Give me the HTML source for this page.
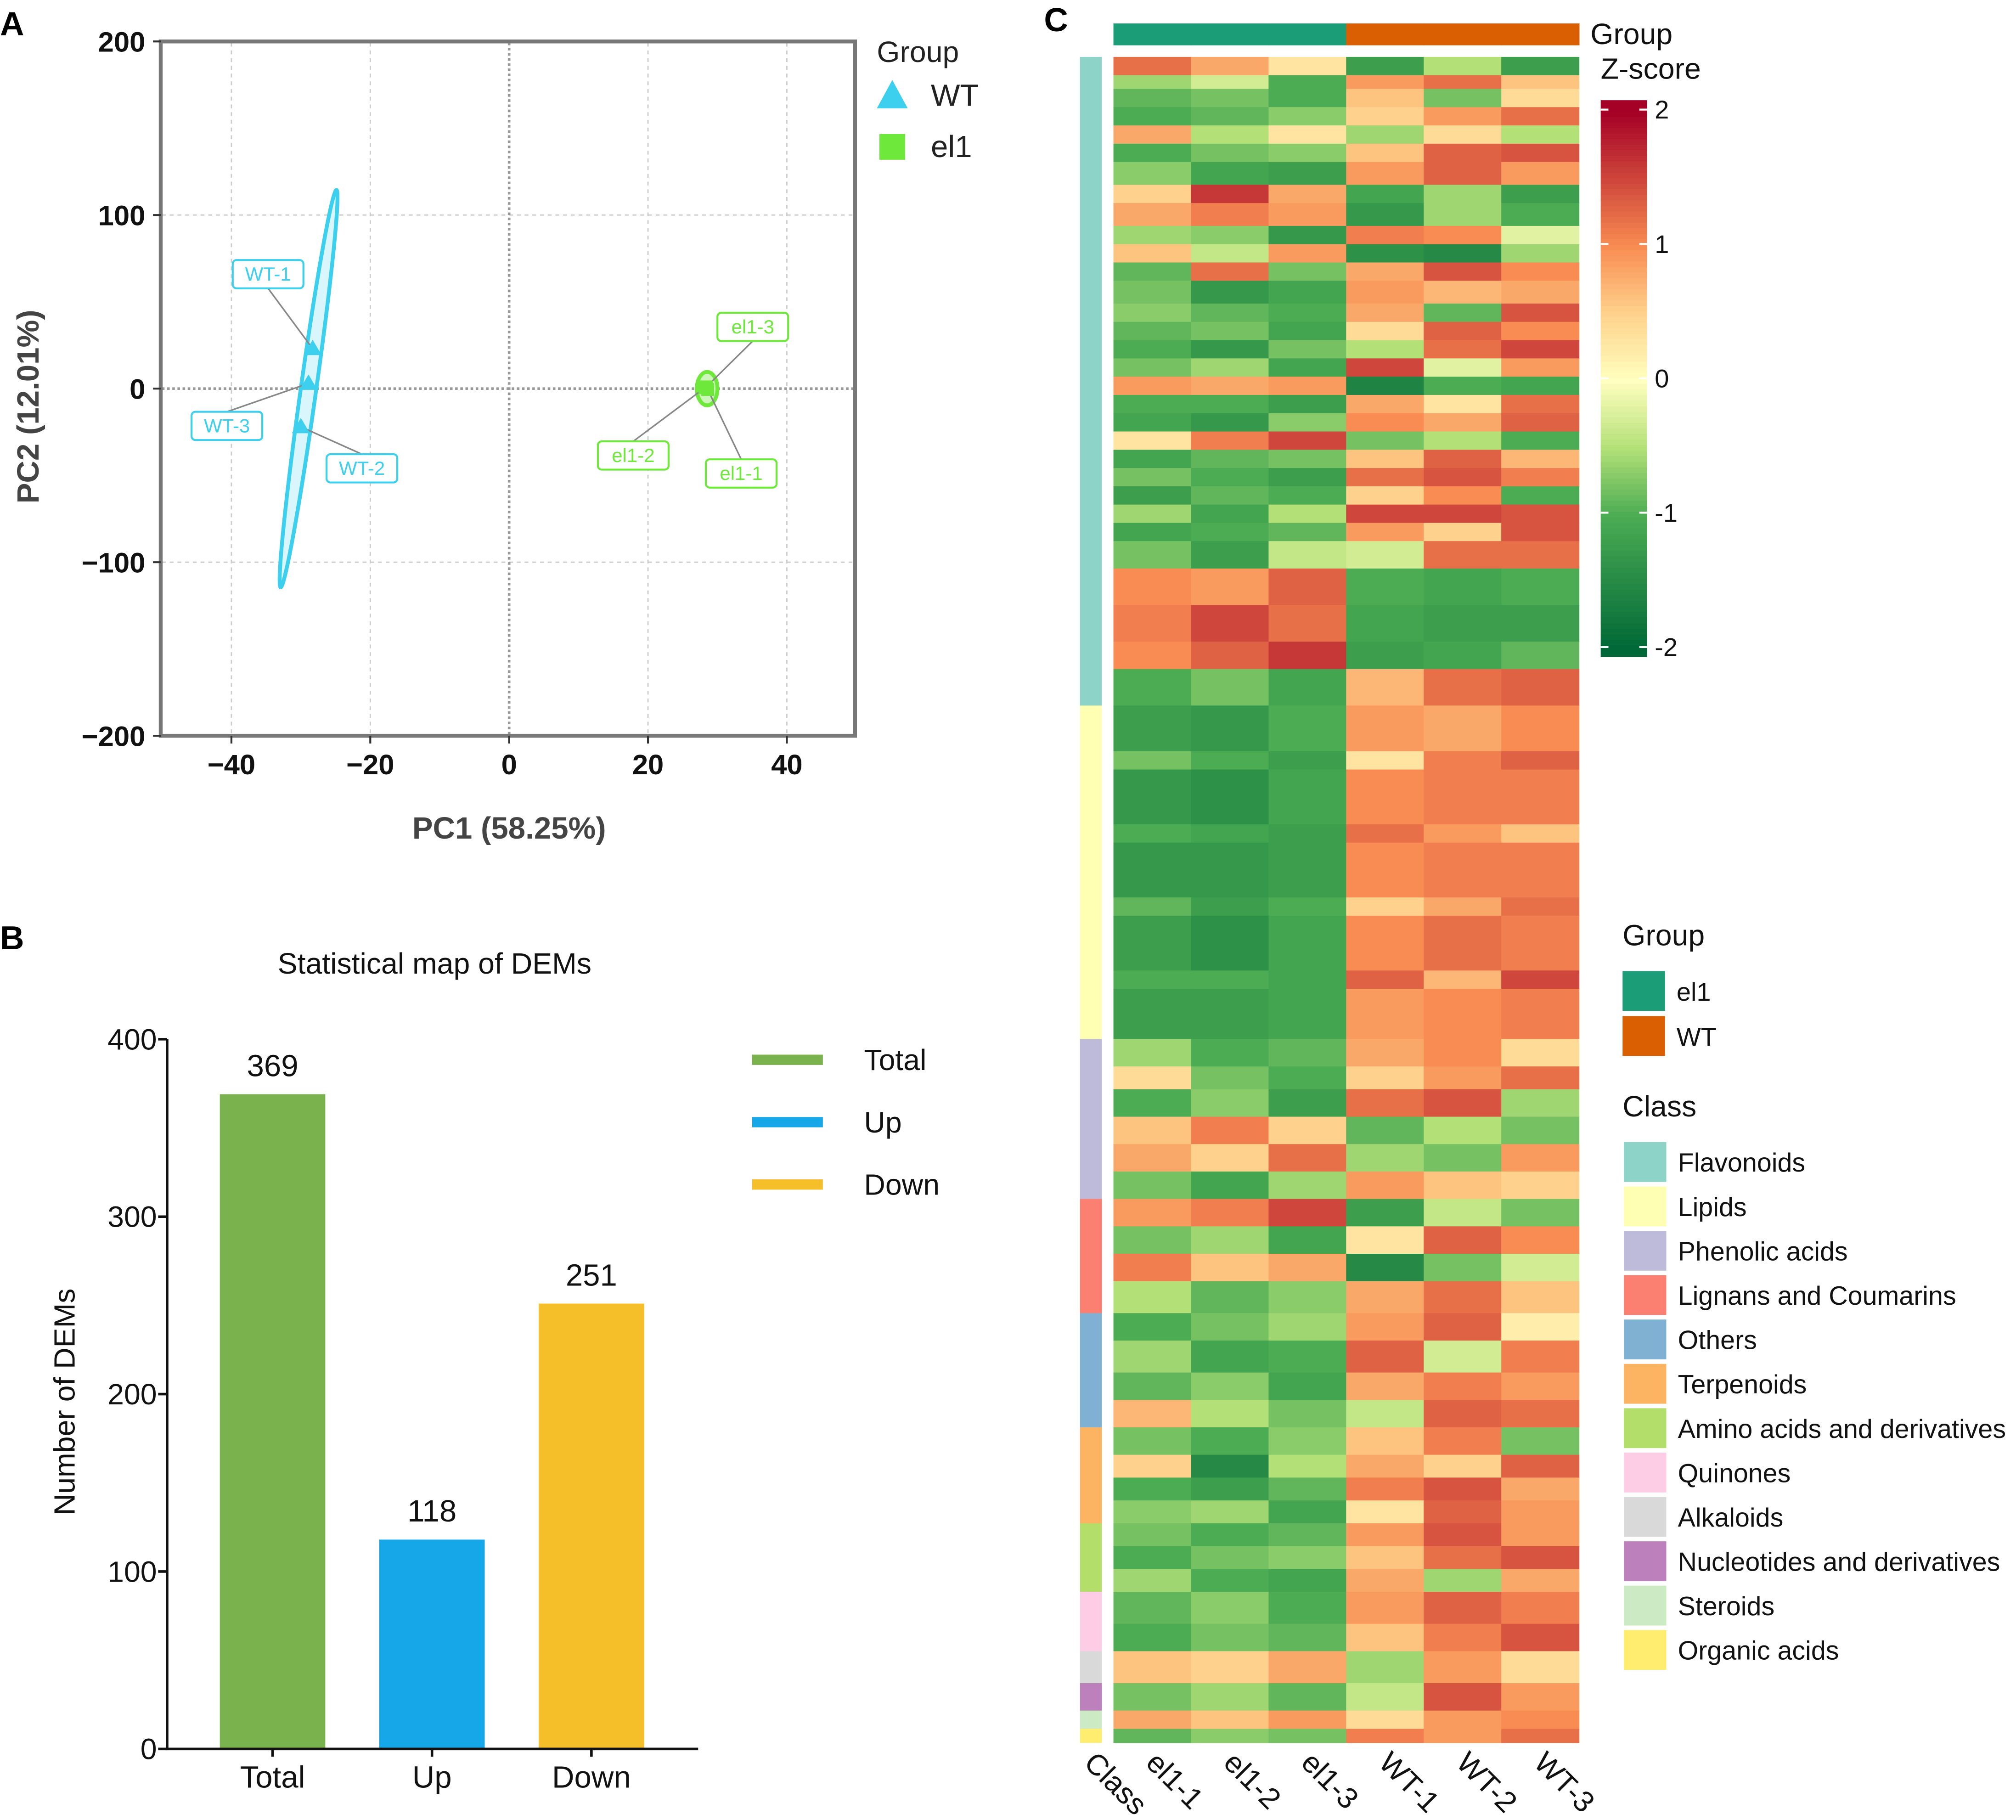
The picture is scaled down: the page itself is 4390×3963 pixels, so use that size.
<!DOCTYPE html>
<html><head><meta charset="utf-8"><style>
html,body{margin:0;padding:0;background:#fff;}
svg{display:block;font-family:"Liberation Sans",Arial,sans-serif;}
</style></head><body>
<svg id="fig" width="4390" height="3963" viewBox="0 0 1568 1415" xmlns="http://www.w3.org/2000/svg">
<rect width="1568" height="1415" fill="#fff"/>
<g id="pA"></g>
<g id="pB"></g>
<g id="pC"></g>
</svg>
<script>
// ---------- Panel A data ----------
const pcaNames = ["WT-1","WT-2","WT-3","el1-1","el1-2","el1-3"];
const pcaX = [-28.3,-30.0,-28.9,28.6,28.2,28.4];
const pcaY = [23,-22,3,-0.5,0.5,1];
const pcaGroup = ["WT","WT","WT","el1","el1","el1"];
const pcaXTicks = [-40,-20,0,20,40];
const pcaYTicks = [200,100,0,-100,-200];
// ---------- Panel B data ----------
const barCats = ["Total","Up","Down"];
const barVals = [369,118,251];
const barTicks = [0,100,200,300,400];
// ---------- Panel C data ----------
const classNames = ["Flavonoids","Lipids","Phenolic acids","Lignans and Coumarins","Others","Terpenoids","Amino acids and derivatives","Quinones","Alkaloids","Nucleotides and derivatives","Steroids","Organic acids"];
const classCounts = [142,73,35,25,25,21,15,13,7,6,4,3];
const sampleNames = ["el1-1","el1-2","el1-3","WT-1","WT-2","WT-3"];
const segRows = [4,3,4,4,4,4,5,4,5,4,4,4,5,4,4,4,4,4,4,4,4,4,4,4,4,4,6, 8,8,6,8,
 10,4,12,4,12,4,12,4,11,
 6,5,6,6,6,6,
 6,6,6,7,
 6,7,6,6,
 6,5,5,5,
 5,5,5,
 7,6,
 7,6,4,3];
const segVals = [
[1.2,0.8,0.3,-1.2,-0.5,-1.2],[-0.6,-0.3,-1,0.9,1.2,0.6],[-0.9,-0.8,-1,0.6,-0.8,0.4],[-1,-0.9,-0.7,0.5,0.9,1.2],
[0.8,-0.5,0.3,-0.6,0.4,-0.5],[-1,-0.8,-0.7,0.6,1.3,1.4],[-0.7,-1.1,-1.2,0.9,1.3,0.9],[0.5,1.6,0.8,-1.1,-0.6,-1.2],
[0.8,1.1,0.9,-1.3,-0.6,-1],[-0.6,-0.7,-1.3,1.1,1.0,-0.2],[0.6,-0.4,0.9,-1.4,-1.5,-0.6],[-0.9,1.2,-0.8,0.8,1.4,1.0],
[-0.8,-1.3,-1.1,0.9,0.7,0.8],[-0.7,-0.9,-1,0.8,-0.9,1.4],[-0.9,-0.8,-1.1,0.4,1.3,1.0],[-1,-1.3,-0.8,-0.5,1.2,1.5],
[-0.8,-0.6,-1.1,1.5,-0.2,0.9],[0.9,0.8,0.9,-1.6,-1,-1.1],[-1,-1,-1.2,0.8,0.3,1.2],[-1.1,-1.3,-0.7,1.0,0.8,1.3],
[0.3,1.1,1.5,-0.8,-0.5,-1],[-1.1,-0.9,-0.8,0.6,1.3,0.7],[-0.8,-1,-1.2,1.2,1.4,1.1],[-1.2,-0.9,-1,0.5,1.0,-1],
[-0.6,-1.1,-0.5,1.5,1.5,1.4],[-1.1,-1,-0.9,0.9,0.5,1.4],[-0.8,-1.2,-0.4,-0.3,1.2,1.2],
[1.0,0.9,1.3,-1,-1.1,-1],[1.1,1.5,1.2,-1.1,-1.2,-1.2],[1.0,1.3,1.6,-1.2,-1.1,-0.9],[-1,-0.8,-1.1,0.7,1.2,1.3],
[-1.2,-1.3,-1,0.9,0.8,1.0],[-0.8,-1.0,-1.2,0.3,1.1,1.3],[-1.3,-1.4,-1.1,1.0,1.1,1.1],[-1,-1.1,-1.2,1.2,0.9,0.6],
[-1.3,-1.3,-1.2,1.0,1.1,1.1],[-0.9,-1.2,-1,0.5,0.8,1.2],[-1.2,-1.4,-1.1,1.0,1.2,1.1],[-1,-1,-1.1,1.3,0.7,1.5],
[-1.2,-1.2,-1.1,0.9,1.0,1.1],
[-0.6,-1.0,-0.9,0.8,1.0,0.4],[0.4,-0.8,-1,0.5,0.9,1.2],[-1,-0.7,-1.2,1.2,1.4,-0.6],[0.6,1.1,0.5,-0.9,-0.5,-0.8],
[0.8,0.5,1.2,-0.6,-0.8,0.9],[-0.8,-1.1,-0.6,0.9,0.6,0.5],
[0.9,1.1,1.5,-1.2,-0.4,-0.8],[-0.8,-0.6,-1.1,0.3,1.3,1.0],[1.1,0.6,0.8,-1.5,-0.8,-0.3],[-0.5,-0.9,-0.7,0.8,1.2,0.6],
[-1,-0.8,-0.6,0.9,1.3,0.2],[-0.6,-1.1,-1,1.3,-0.3,1.1],[-0.9,-0.7,-1.1,0.8,1.1,0.9],[0.7,-0.5,-0.8,-0.4,1.3,1.2],
[-0.8,-1,-0.7,0.6,1.1,-0.8],[0.5,-1.5,-0.5,0.8,0.5,1.3],[-1,-1.2,-0.9,1.1,1.4,0.8],[-0.7,-0.6,-1.1,0.3,1.3,0.9],
[-0.8,-1,-0.9,0.9,1.4,0.9],[-1,-0.8,-0.7,0.6,1.2,1.4],[-0.6,-1,-1.1,0.8,-0.6,0.8],
[-0.9,-0.7,-1,0.9,1.3,1.1],[-1,-0.8,-0.9,0.6,1.1,1.4],
[0.6,0.5,0.8,-0.6,0.9,0.4],[-0.8,-0.6,-0.9,-0.4,1.4,0.9],[0.8,0.6,0.9,0.4,0.9,1.0],[-0.9,-0.7,-0.8,1.1,0.9,1.2]];
const zTicks = [2,1,0,-1,-2];

const NS="http://www.w3.org/2000/svg";
function mk(parent,tag,attrs,txt){const e=document.createElementNS(NS,tag);for(const k in attrs)e.setAttribute(k,attrs[k]);if(txt!==undefined)e.textContent=txt;parent.appendChild(e);return e;}

// ================= Panel A =================
(function(){
const g=document.getElementById('pA');
const X=v=>396+v*5.4, Y=v=>302-v*1.35;
let t=mk(g,'text',{x:0,y:27,'font-size':26,'font-weight':'bold'},'A');

pcaXTicks.forEach(v=>{ if(v!==0){const l=mk(g,'line',{x1:X(v),x2:X(v),y1:33,y2:571,stroke:'#ccc','stroke-dasharray':'3,3','stroke-width':1});
 }});
pcaYTicks.forEach(v=>{ if(v!==0&&Math.abs(v)!==200){const l=mk(g,'line',{x1:126,x2:665,y1:Y(v),y2:Y(v),stroke:'#ccc','stroke-dasharray':'3,3','stroke-width':1});
 }});
let z1=mk(g,'line',{x1:X(0),x2:X(0),y1:33,y2:571,stroke:'#999','stroke-dasharray':'2,2','stroke-width':2});

let z2=mk(g,'line',{x1:126,x2:665,y1:Y(0),y2:Y(0),stroke:'#999','stroke-dasharray':'2,2','stroke-width':2});

let fr=mk(g,'rect',{x:125,y:32,width:540,height:540,fill:'none',stroke:'#777','stroke-width':3});

pcaXTicks.forEach(v=>{mk(g,'line',{x1:X(v),x2:X(v),y1:572,y2:578,stroke:'#333','stroke-width':1.5});
 const tt=mk(g,'text',{x:X(v),y:602,'font-size':22,'font-weight':'bold','text-anchor':'middle',fill:'#111'},(v<0?'\u2212':'')+Math.abs(v));
 });
pcaYTicks.forEach(v=>{mk(g,'line',{x1:119,x2:125,y1:Y(v),y2:Y(v),stroke:'#333','stroke-width':1.5});
 const tt=mk(g,'text',{x:113,y:Y(v)+8,'font-size':22,'font-weight':'bold','text-anchor':'end',fill:'#111'},(v<0?'\u2212':'')+Math.abs(v));
 });
let xt=mk(g,'text',{x:396,y:652,'font-size':24,'font-weight':'bold','text-anchor':'middle',fill:'#444'},'PC1 (58.25%)');

let yt=mk(g,'text',{x:0,y:0,'font-size':24,'font-weight':'bold','text-anchor':'middle',fill:'#444',transform:'translate(30,316) rotate(-90)'},'PC2 (12.01%)');

let e1=mk(g,'ellipse',{cx:240,cy:302,rx:6,ry:156,fill:'#d8f6fb',stroke:'#3cd0ee','stroke-width':3,transform:'rotate(8 240 302)'});

let e2=mk(g,'ellipse',{cx:550,cy:302,rx:8,ry:13,fill:'#cdf7b8',stroke:'#6ee83a','stroke-width':3});

const labPos={"WT-1":[181,202],"WT-2":[254,353],"WT-3":[149,320],"el1-1":[549,357],"el1-2":[465,343],"el1-3":[558,243]};
pcaNames.forEach((n,i)=>{
 const px=X(pcaX[i]),py=Y(pcaY[i]);const col=pcaGroup[i]==='WT'?'#3cd0ee':'#6ee83a';
 const lp=labPos[n];const w=55;
 const ln=mk(g,'line',{x1:lp[0]+w/2,y1:lp[1]+(py<lp[1]?0:22),x2:px,y2:py,stroke:'#888','stroke-width':1.2});
 
 let m;
 if(pcaGroup[i]==='WT'){m=mk(g,'polygon',{points:`${px},${py-7} ${px-7},${py+5} ${px+7},${py+5}`,fill:col});}
 else {m=mk(g,'rect',{x:px-5,y:py-5,width:10,height:10,fill:col});}
 
 const b=mk(g,'rect',{x:lp[0],y:lp[1],width:w,height:22,rx:3,fill:'#fff',stroke:col,'stroke-width':1.5});
 
 const tx=mk(g,'text',{x:lp[0]+w/2,y:lp[1]+16,'font-size':15,'text-anchor':'middle',fill:col},n);
 
});
let lg=mk(g,'text',{x:682,y:48,'font-size':23,fill:'#222'},'Group');
let l1=mk(g,'polygon',{points:'694,62 682,84 706,84',fill:'#3cd0ee'});
let l1t=mk(g,'text',{x:724,y:82,'font-size':24,fill:'#222'},'WT');
let l2=mk(g,'rect',{x:684,y:104,width:20,height:20,fill:'#6ee83a'});
let l2t=mk(g,'text',{x:724,y:122,'font-size':24,fill:'#222'},'el1');
})();

// ================= Panel B =================
(function(){
const g=document.getElementById('pB');
const Y=v=>1360-v*1.38;const bx=[171,295,419];const bw=82;const cols=['#7ab34e','#16a7e9','#f4bf29'];
let t=mk(g,'text',{x:0,y:738,'font-size':26,'font-weight':'bold'},'B');
let ti=mk(g,'text',{x:338,y:757,'font-size':23,'text-anchor':'middle',fill:'#111'},'Statistical map of DEMs');
barVals.forEach((v,i)=>{
 const r=mk(g,'rect',{x:bx[i],y:Y(v),width:bw,height:Y(0)-Y(v),fill:cols[i]});
 
 const vl=mk(g,'text',{x:bx[i]+bw/2,y:Y(v)-14,'font-size':24,'text-anchor':'middle',fill:'#111'},String(v));
 
 const cl=mk(g,'text',{x:bx[i]+bw/2,y:1390,'font-size':24,'text-anchor':'middle',fill:'#111'},barCats[i]);
 
 mk(g,'line',{x1:bx[i]+bw/2,x2:bx[i]+bw/2,y1:1360,y2:1366,stroke:'#111','stroke-width':2});
});
let ax=mk(g,'path',{d:'M130,808 V1360 H543',fill:'none',stroke:'#111','stroke-width':2});
barTicks.forEach(v=>{mk(g,'line',{x1:123,x2:130,y1:Y(v),y2:Y(v),stroke:'#111','stroke-width':2});
 const tt=mk(g,'text',{x:122,y:Y(v)+8,'font-size':23,'text-anchor':'end',fill:'#111'},String(v));
 });
let yt=mk(g,'text',{x:0,y:0,'font-size':23,'text-anchor':'middle',fill:'#111',transform:'translate(58,1090) rotate(-90)'},'Number of DEMs');

barCats.forEach((c,i)=>{const y=824+i*48.5;
 const l=mk(g,'rect',{x:585,y:y-4,width:55,height:8,fill:cols[i]});
 const lt=mk(g,'text',{x:672,y:y+8,'font-size':23,fill:'#111'},c);});
})();

// ================= Panel C =================
(function(){
const g=document.getElementById('pC');
const stops=[[-2,[0,104,55]],[-1,[76,172,84]],[-0.5,[180,224,120]],[0,[255,255,191]],[0.5,[254,210,140]],[1,[248,140,82]],[2,[165,0,38]]];
function col(v){v=Math.max(-2,Math.min(2,v));for(let i=0;i<stops.length-1;i++){if(v<=stops[i+1][0]){const f=(v-stops[i][0])/(stops[i+1][0]-stops[i][0]);const a=stops[i][1],b=stops[i+1][1];return `rgb(${a.map((x,k)=>Math.round(x+(b[k]-x)*f)).join(',')})`;}}return 'rgb(165,0,38)';}
const clsCols=['#8dd3c7','#ffffb3','#bebada','#fb8072','#80b1d3','#fdb462','#b3de69','#fccde5','#d9d9d9','#bc80bd','#ccebc5','#ffed6f'];
const x0=866,x1=1228,y0=44,y1=1355;const nRows=classCounts.reduce((a,b)=>a+b,0);const rh=(y1-y0)/nRows;const cw=(x1-x0)/sampleNames.length;
let t=mk(g,'text',{x:812,y:24,'font-size':26,'font-weight':'bold'},'C');
sampleNames.forEach((s,j)=>{const r=mk(g,'rect',{x:x0+j*cw,y:18,width:cw+0.5,height:17,fill:j<3?'#1b9e77':'#d95f02'});
 });
let gt=mk(g,'text',{x:1237,y:34,'font-size':23,fill:'#111'},'Group');
let row=0;classCounts.forEach((n,i)=>{const r=mk(g,'rect',{x:840,y:y0+row*rh,width:17,height:n*rh+0.3,fill:clsCols[i]});
 row+=n;});
row=0;segRows.forEach((n,s)=>{segVals[s].forEach((v,j)=>{const r=mk(g,'rect',{x:x0+j*cw,y:y0+row*rh,width:cw+0.4,height:n*rh+0.4,fill:col(v)});
 });row+=n;});
const labs=['Class'].concat(sampleNames);const lx=[848].concat(sampleNames.map((s,j)=>x0+j*cw+cw/2));
labs.forEach((s,i)=>{const tt=mk(g,'text',{x:0,y:0,'font-size':23,fill:'#111',transform:`translate(${lx[i]-6},1372) rotate(45)`},s);
 });
let zt=mk(g,'text',{x:1245,y:61,'font-size':23,fill:'#111'},'Z-score');
const Z=v=>294-v*104.5;
for(let k=0;k<100;k++){const v=2.07-k*4.14/100;const r=mk(g,'rect',{x:1245,y:Z(v),width:36,height:4.6,fill:col(v)});
 }
zTicks.forEach(v=>{mk(g,'line',{x1:1245,x2:1251,y1:Z(v),y2:Z(v),stroke:'#fff','stroke-width':1.5});mk(g,'line',{x1:1275,x2:1281,y1:Z(v),y2:Z(v),stroke:'#fff','stroke-width':1.5});
 const tt=mk(g,'text',{x:1287,y:Z(v)+7,'font-size':20,fill:'#111'},String(v));});
let glt=mk(g,'text',{x:1262,y:735,'font-size':23,fill:'#111'},'Group');
[['el1','#1b9e77'],['WT','#d95f02']].forEach((p,i)=>{const r=mk(g,'rect',{x:1262,y:755+i*35,width:33,height:31,fill:p[1]});
 
 const tt=mk(g,'text',{x:1304,y:778+i*35,'font-size':20,fill:'#111'},p[0]);});
let clt=mk(g,'text',{x:1262,y:868,'font-size':23,fill:'#111'},'Class');
classNames.forEach((c,i)=>{const y=888+i*34.5;const r=mk(g,'rect',{x:1263,y:y,width:33,height:31,fill:clsCols[i]});
 
 const tt=mk(g,'text',{x:1305,y:y+23,'font-size':20.5,fill:'#111'},c);});
})();
</script>
</body></html>
